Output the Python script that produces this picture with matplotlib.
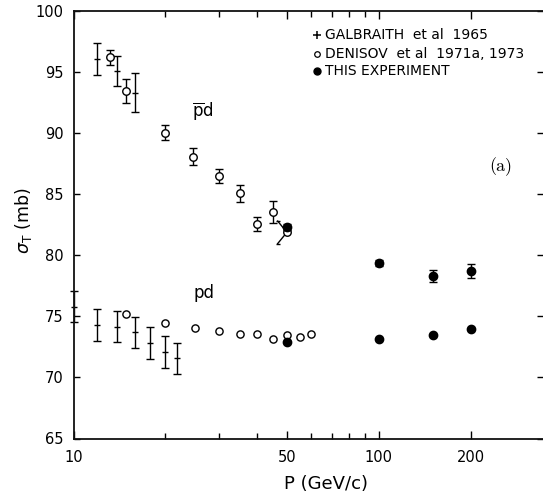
import matplotlib
matplotlib.use("Agg")
import matplotlib.pyplot as plt
from matplotlib.lines import Line2D
from matplotlib.ticker import NullFormatter, FixedLocator

plt.rcParams['font.family'] = ['DejaVu Sans']
plt.rcParams['mathtext.fontset'] = 'dejavusans'

# ---------------- data ----------------
# Galbraith et al 1965 (crosses with error bars)
gal_pbar_p = [11.9, 13.9, 15.9]
gal_pbar_s = [96.1, 95.1, 93.3]
gal_pbar_e = [1.3, 1.25, 1.6]

gal_pd_p = [10.0, 11.9, 13.9, 15.9, 17.8, 20.0, 21.9]
gal_pd_s = [75.8, 74.3, 74.15, 73.7, 72.8, 72.1, 71.55]
gal_pd_e = [1.3, 1.3, 1.25, 1.27, 1.3, 1.3, 1.3]

# Denisov et al 1971a, 1973 (open circles)
den_pbar_p = [13.2, 14.9, 20.0, 24.7, 30.0, 35.0, 40.0, 45.0]
den_pbar_s = [96.2, 93.43, 90.04, 88.08, 86.49, 85.08, 82.56, 83.57]
den_pbar_e = [0.6, 1.0, 0.64, 0.68, 0.57, 0.71, 0.61, 0.9]
den_pbar50_p = 50.0
den_pbar50_s = 81.88
den_pbar50_e = 0.92

den_pd_p = [14.9, 20.0, 25.0, 30.0, 35.0, 40.0, 45.0, 50.0, 55.0, 60.0]
den_pd_s = [75.19, 74.43, 74.02, 73.83, 73.56, 73.53, 73.15, 73.47, 73.29, 73.53]

# This experiment (filled circles)
exp_p = [50.0, 100.0, 150.0, 200.0]
exp_pbar_s = [82.29, 79.34, 78.33, 78.71]
exp_pbar_e = [0.25, 0.25, 0.48, 0.61]
exp_pd_s = [72.88, 73.15, 73.47, 73.94]

x_ticks = [10, 50, 100, 200]
x_ticklabels = ['10', '50', '100', '200']
x_minor = [20, 30, 40, 60, 70, 80, 90]
y_ticks = [65, 70, 75, 80, 85, 90, 95, 100]

# ---------------- figure ----------------
W, H = 543, 496
fig = plt.figure(figsize=(W / 100, H / 100), dpi=100)
L, R, T, B = 73.5, 543, 11, 438.5
ax = fig.add_axes([L / W, 1 - B / H, (R - L) / W, (B - T) / H])
ax.set_xscale('log')
ax.set_xlim(10, 345)
ax.set_ylim(65, 100)

def fx(px):
    return px / W

def fy(py):
    return 1 - py / H

k = 'black'

# Galbraith
for p, s, e in [(gal_pbar_p, gal_pbar_s, gal_pbar_e), (gal_pd_p, gal_pd_s, gal_pd_e)]:
    c = ax.errorbar(p, s, yerr=e, fmt='_', color=k, ms=4, mew=1.0,
                    elinewidth=1.0, capsize=3, capthick=1.0)
    for art in c.get_children():
        art.set_clip_on(False)

# Denisov
ax.errorbar(den_pbar_p, den_pbar_s, yerr=den_pbar_e, fmt='o', mfc='white',
            mec=k, ms=5.4, mew=1.0, ecolor=k, elinewidth=1.0, capsize=3,
            capthick=1.0, zorder=3)
# bent (displaced) error bar of the 50 GeV/c point
xb = den_pbar50_p * 0.933
ax.plot([xb, den_pbar50_p, xb],
        [den_pbar50_s + den_pbar50_e, den_pbar50_s, den_pbar50_s - den_pbar50_e],
        color=k, lw=1.0, zorder=2)
ax.plot([xb, xb], [den_pbar50_s + den_pbar50_e, den_pbar50_s - den_pbar50_e],
        '_', color=k, ms=3, mew=1.0, zorder=2)
ax.plot([den_pbar50_p], [den_pbar50_s], 'o', mfc='white', mec=k, ms=5.4,
        mew=1.0, zorder=3)

ax.plot(den_pd_p, den_pd_s, 'o', mfc='white', mec=k, ms=5.2, mew=1.0, zorder=3)

# This experiment
ax.errorbar(exp_p, exp_pbar_s, yerr=exp_pbar_e, fmt='o', color=k, ms=6,
            elinewidth=1.0, capsize=3, capthick=1.0, zorder=4)
ax.plot(exp_p, exp_pd_s, 'o', color=k, ms=6, zorder=4)

# ---------------- axes styling ----------------
ax.xaxis.set_major_locator(FixedLocator(x_ticks))
ax.set_xticklabels(x_ticklabels)
ax.xaxis.set_minor_locator(FixedLocator(x_minor))
ax.xaxis.set_minor_formatter(NullFormatter())
ax.set_yticks(y_ticks)
ax.set_yticklabels([str(v) for v in y_ticks])

ax.tick_params(axis='x', which='major', direction='in', top=True, length=6,
               width=1.0, labelsize=10.5, pad=8)
ax.tick_params(axis='x', which='minor', direction='in', top=True, length=4.2,
               width=1.0)
ax.tick_params(axis='y', which='major', direction='in', right=True, length=4.2,
               width=1.0, labelsize=10.5, pad=7)
for side in ['left', 'bottom', 'top']:
    ax.spines[side].set_linewidth(1.3)
    ax.spines[side].set_color('#111111')
ax.spines['right'].set_visible(False)

fig.text(fx(23), fy(221), r'$\sigma_{\mathrm{T}}$ (mb)', rotation=90,
         ha='center', va='center', fontsize=12.5)
fig.text(fx(326), fy(484), 'P (GeV/c)', ha='center', va='center', fontsize=13)

# annotations
fig.text(fx(203), fy(111), r'$\overline{\mathrm{p}}\mathrm{d}$', ha='center',
         va='center', fontsize=12)
fig.text(fx(204), fy(293), 'pd', ha='center', va='center', fontsize=12)
fig.text(fx(501), fy(167), '(a)', ha='center', va='center', fontsize=13,
         family='cmr10')

# legend (manual)
leg_rows = [
    (dict(marker='+', ms=6, mew=1.1, color=k), 'GALBRAITH  et al  1965', 35),
    (dict(marker='o', ms=4, mew=0.9, mfc='white', mec=k), 'DENISOV  et al  1971a, 1973', 54),
    (dict(marker='o', ms=5, color=k), 'THIS EXPERIMENT', 71),
]
for style, label, ypix in leg_rows:
    fig.add_artist(Line2D([fx(317)], [fy(ypix)], transform=fig.transFigure,
                          linestyle='none', **style))
    fig.text(fx(325), fy(ypix), label, ha='left', va='center', fontsize=10)

fig.savefig('out.png', dpi=100)
